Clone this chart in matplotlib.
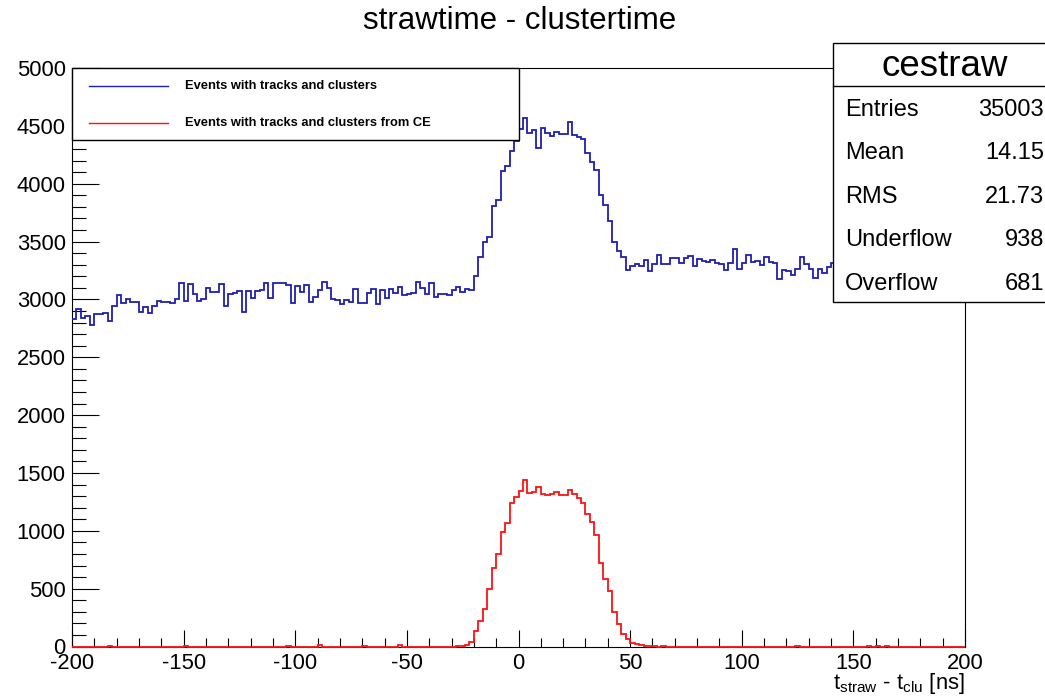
import numpy as np
import matplotlib
matplotlib.use("Agg")
import matplotlib.pyplot as plt
from matplotlib.patches import Rectangle
from matplotlib.lines import Line2D
from matplotlib.ticker import MultipleLocator

plt.rcParams['font.family'] = ['Liberation Sans', 'DejaVu Sans']
plt.rcParams['mathtext.fontset'] = 'custom'
plt.rcParams['mathtext.rm'] = 'Liberation Sans'
plt.rcParams['mathtext.it'] = 'Liberation Sans'
plt.rcParams['axes.unicode_minus'] = False

# histogram binning: 200 bins of 2 ns
x_lo, x_hi, n_bins = -200, 200, 200

# events with tracks and clusters
all_clusters = [
    2830, 2915, 2835, 2855, 2775, 2870, 2870, 2885, 2815, 2945,
    3040, 2970, 3005, 2980, 2980, 2890, 2930, 2880, 2945, 2985,
    2980, 2975, 2970, 3000, 3140, 2990, 3130, 3050, 2985, 3000,
    3100, 3060, 3060, 3130, 2945, 3050, 3055, 3070, 2890, 3070,
    3015, 3070, 3085, 3145, 3015, 3145, 3138, 3144, 3124, 2966,
    3115, 3063, 3121, 2980, 3023, 3080, 3149, 3101, 3006, 2994,
    2957, 2994, 2977, 3086, 2971, 2966, 3057, 3086, 2957, 3078,
    3009, 3092, 3052, 3106, 3034, 3046, 3052, 3149, 3101, 3043,
    3138, 3023, 3046, 3046, 3034, 3080, 3106, 3063, 3086, 3078,
    3201, 3365, 3494, 3540, 3810, 3856, 4106, 4149, 4279, 4365,
    4470, 4566, 4437, 4468, 4307, 4480, 4437, 4416, 4451, 4428,
    4428, 4532, 4422, 4402, 4385, 4264, 4184, 4120, 3905, 3819,
    3681, 3494, 3417, 3368, 3253, 3287, 3310, 3287, 3339, 3244,
    3307, 3388, 3310, 3302, 3359, 3359, 3316, 3359, 3379, 3287,
    3345, 3330, 3325, 3339, 3316, 3307, 3253, 3316, 3437, 3264,
    3316, 3388, 3322, 3330, 3293, 3365, 3322, 3316, 3172, 3253,
    3244, 3207, 3264, 3365, 3302, 3264, 3187, 3259, 3230, 3279,
    3316, 3290, 3255, 3310, 3240, 3275, 3330, 3260, 3225, 3295,
    3270, 3310, 3245, 3285, 3230, 3300, 3265, 3240, 3315, 3270,
    3250, 3295, 3225, 3280, 3260, 3305, 3240, 3270, 3285, 3250,
]

# events with tracks and clusters from CE
ce_clusters = [
    0, 0, 0, 0, 0, 0, 0, 0, 2, 0, 0, 0, 0, 0, 0, 0, 0, 0, 0, 0,
    0, 0, 0, 0, 0, 3, 0, 0, 0, 0, 0, 0, 0, 0, 0, 0, 0, 0, 0, 0,
    0, 0, 0, 0, 0, 0, 0, 0, 8, 0, 0, 0, 0, 0, 0, 9, 0, 0, 0, 0,
    0, 0, 0, 0, 0, 8, 0, 0, 0, 0, 0, 0, 0, 9, 0, 0, 0, 0, 0, 0,
    0, 0, 0, 0, 0, 0, 3, 7, 16, 42, 134, 220, 322, 497, 676, 800, 993, 1065, 1238, 1296,
    1345, 1440, 1324, 1333, 1376, 1319, 1310, 1316, 1339, 1310,
    1310, 1353, 1319, 1287, 1238, 1146, 1080, 964, 719, 581,
    480, 301, 192, 105, 62, 33, 22, 12, 6, 4, 3, 0, 2, 0, 0, 0, 0, 0, 0, 0,
    0, 0, 0, 0, 0, 0, 0, 0, 0, 0, 0, 0, 0, 0, 0, 0, 0, 0, 0, 0,
    0, 0, 6, 0, 0, 0, 0, 0, 0, 0, 0, 0, 0, 0, 0, 0, 0, 0, 5, 0,
    7, 0, 6, 0, 0, 0, 0, 0, 0, 0, 0, 0, 0, 0, 0, 0, 0, 0, 0, 0,
]

legend_labels = ["Events with tracks and clusters",
                 "Events with tracks and clusters from CE"]
stat_names = ["Entries", "Mean", "RMS", "Underflow", "Overflow"]
stat_values = ["35003", "14.15", "21.73", "938", "681"]

blue = '#1f1fb4'
red = '#ff1010'

W, H = 1045, 699


def fx(px):
    return px / W


def fy(py):
    return 1 - py / H


fig = plt.figure(figsize=(W / 100, H / 100), dpi=100)
ax = fig.add_axes([fx(72), fy(646.5), fx(965) - fx(72), fy(68) - fy(646.5)])

edges = np.linspace(x_lo, x_hi, n_bins + 1)
ax.stairs(all_clusters, edges, baseline=None, color=blue, lw=1.3, zorder=3)
ax.stairs(ce_clusters, edges, baseline=None, color=red, lw=1.3, zorder=4,
          clip_on=False)

ax.set_xlim(x_lo, x_hi)
ax.set_ylim(0, 5000)
ax.xaxis.set_major_locator(MultipleLocator(50))
ax.xaxis.set_minor_locator(MultipleLocator(10))
ax.yaxis.set_major_locator(MultipleLocator(500))
ax.yaxis.set_minor_locator(MultipleLocator(100))
ax.tick_params(which='both', direction='in', top=False, right=False,
               width=0.8, labelsize=15.8)
ax.tick_params(axis='x', which='major', length=12.5, pad=5)
ax.tick_params(axis='x', which='minor', length=6.3)
ax.tick_params(axis='y', which='major', length=19.5, pad=4.5)
ax.tick_params(axis='y', which='minor', length=9.8)
for sp in ax.spines.values():
    sp.set_linewidth(0.8)
    sp.set_color('black')

fig.text(fx(520), fy(29), "strawtime - clustertime", fontsize=22.5,
         ha='center', va='baseline')
fig.text(fx(965), fy(689),
         r'$\mathrm{t}_{\mathrm{straw}}$ - $\mathrm{t}_{\mathrm{clu}}$ [ns]',
         fontsize=15.8, ha='right', va='baseline')

# legend box in the top-left corner of the frame
fig.add_artist(Rectangle((fx(72), fy(140)), fx(519) - fx(72), fy(68) - fy(140),
                         transform=fig.transFigure, facecolor='white',
                         edgecolor='black', lw=1.0, zorder=5))
for py, col, label in zip([86, 123], [blue, red], legend_labels):
    fig.add_artist(Line2D([fx(89), fx(168)], [fy(py), fy(py)], color=col,
                          lw=1.0, transform=fig.transFigure, zorder=6))
    fig.text(fx(185), fy(py), label, fontsize=9.3, fontweight='bold',
             ha='left', va='center', zorder=6)

# statistics box
fig.add_artist(Rectangle((fx(833), fy(302)), fx(1050) - fx(833), fy(43) - fy(302),
                         transform=fig.transFigure, facecolor='white',
                         edgecolor='black', lw=1.0, zorder=5))
fig.add_artist(Line2D([fx(833), fx(1050)], [fy(86), fy(86)], color='black',
                      lw=1.0, transform=fig.transFigure, zorder=6))
fig.text(fx(945), fy(76.5), "cestraw", fontsize=26.5, ha='center',
         va='baseline', zorder=6)
for i, (name, val) in enumerate(zip(stat_names, stat_values)):
    base = 116 + 43.4 * i
    fig.text(fx(845), fy(base), name, fontsize=17, ha='left', va='baseline', zorder=6)
    fig.text(fx(1044), fy(base), val, fontsize=17, ha='right', va='baseline', zorder=6)

fig.savefig("out.png", dpi=100)
